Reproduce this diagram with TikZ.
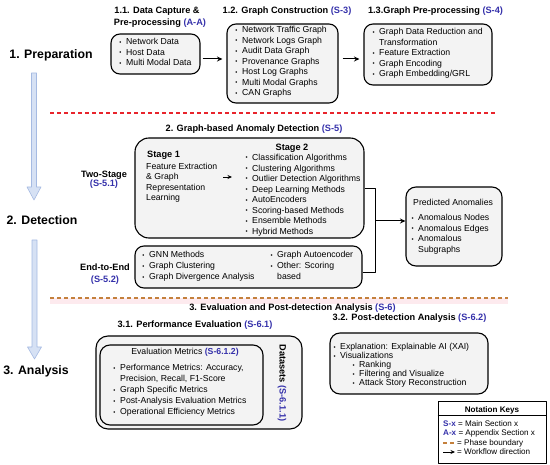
\documentclass[tikz,border=0pt]{standalone}
\usepackage{fontspec}
\setmainfont{Liberation Sans}
\usetikzlibrary{calc,arrows.meta}
\definecolor{secblue}{RGB}{52,48,170}
\definecolor{boxgray}{RGB}{243,243,243}
\definecolor{phasered}{RGB}{232,36,44}
\definecolor{phasebrown}{RGB}{196,128,60}
\definecolor{pinkband}{RGB}{253,234,238}
\definecolor{arrfill}{RGB}{214,225,244}
\definecolor{arrdraw}{RGB}{165,186,226}
\newcommand\fnt{\fontsize{8.7}{10}\selectfont}
\newcommand\tfnt{\fontsize{9.2}{11}\selectfont\bfseries}
\newcommand\pfnt{\fontsize{12.3}{14}\selectfont\bfseries}
\newcommand\lfnt{\fontsize{8.1}{9}\selectfont}
\newcommand\bul{\makebox[0pt][r]{{\fontsize{6}{6}\selectfont\raisebox{0.6pt}{•}}\hspace{4.6pt}}}
\newcommand\sref[1]{\textcolor{secblue}{\bfseries #1}}
\begin{document}
\begin{tikzpicture}[x=1pt,y=-1pt,line join=round,
  box/.style={draw, line width=1.1pt, fill=boxgray, rounded corners=9pt, inner sep=0},
  item/.style={anchor=base west, inner sep=0, font=\fnt},
  ttl/.style={anchor=base, inner sep=0, font=\tfnt},
  phase/.style={anchor=base, inner sep=0, font=\pfnt},
  arr/.style={line width=1pt, -{Stealth[length=5.5pt,width=5pt]}},
  conn/.style={line width=1pt},
  bigarrow/.style={fill=arrfill, draw=arrdraw, line width=0.6pt},
  dashline/.style={line width=1.3pt, dash pattern=on 4pt off 3pt}]
\useasboundingbox (0,0) rectangle (550,465);

% phase arrows and boundaries
\draw[bigarrow] (31.5,73) -- (36.5,73) -- (36.5,187) -- (41,187) -- (34,200) -- (27,187) -- (31.5,187) -- cycle;
\draw[bigarrow] (32,240) -- (37,240) -- (37,347) -- (41.5,347) -- (34.5,359) -- (27.5,347) -- (32,347) -- cycle;
\draw[phasered, dashline] (50,113) -- (497,113);
\fill[pinkband] (50,298) rectangle (508,304);
\draw[phasebrown, dashline] (50,298) -- (508,298);

% boxes
\node[box, minimum width=89pt, minimum height=40pt] (b11) at (155.5,54) {};
\node[box, minimum width=111pt, minimum height=79pt] (b12) at (282.5,63.5) {};
\node[box, minimum width=128pt, minimum height=61pt] (b13) at (428,54.5) {};
\node[box, rounded corners=14pt, minimum width=229pt, minimum height=100pt] (b2a) at (249.5,188) {};
\node[box, minimum width=227pt, minimum height=42pt] (b2b) at (248.5,267) {};
\node[box, rounded corners=10pt, minimum width=96pt, minimum height=79pt] (pred) at (454,226.5) {};
\node[box, rounded corners=12pt, minimum width=206pt, minimum height=93pt] (b31o) at (199,382.5) {};
\node[box, rounded corners=10pt, minimum width=163pt, minimum height=80pt] (b31i) at (181.5,385) {};
\node[box, rounded corners=10pt, minimum width=158pt, minimum height=61pt] (b32) at (409,363.5) {};
\node[draw, line width=0.8pt, fill=white, inner sep=0, minimum width=108pt, minimum height=62pt] (legend) at (492,432) {};
\draw[line width=0.6pt] ($(legend.north west)+(0,15)$) -- ($(legend.north east)+(0,15)$);

% titles
\node[ttl] (t11a) at (157,14) {1.1. Data Capture \&};
\node[ttl] (t11b) at (160,26) {Pre-processing \sref{(A-A)}};
\node[ttl] (t12) at (287,14) {1.2. Graph Construction \sref{(S-3)}};
\node[ttl] (t13) at (435.5,14) {1.3.Graph Pre-processing \sref{(S-4)}};
\node[phase] (p1) at (51,58.5) {1. Preparation};
\node[phase] (p2) at (42,224.5) {2. Detection};
\node[phase] (p3) at (36,374.5) {3. Analysis};
\node[ttl] (t2) at (254,132) {2. Graph-based Anomaly Detection \sref{(S-5)}};
\node[ttl] (two) at (104,177.5) {Two-Stage};
\node[ttl] (two2) at (104,187) {\sref{(S-5.1)}};
\node[ttl] (e2e) at (105,271) {End-to-End};
\node[ttl] (e2e2) at (105,283) {\sref{(S-5.2)}};
\node[ttl] (t3) at (292.5,311) {3. Evaluation and Post-detection Analysis \sref{(S-6)}};
\node[ttl] (t31) at (195,328) {3.1. Performance Evaluation \sref{(S-6.1)}};
\node[ttl] (t32) at (409.5,321) {3.2. Post-detection Analysis \sref{(S-6.2)}};

% box contents
\foreach \t [count=\i] in {{\bul Network Data},{\bul Host Data},{\bul Multi Modal Data}}
  \node[item] (i11-\i) at (126,{45+10.5*(\i-1)}) {\t};
\foreach \t [count=\i] in {{\bul Network Traffic Graph},{\bul Network Logs Graph},{\bul Audit Data Graph},{\bul Provenance Graphs},{\bul Host Log Graphs},{\bul Multi Modal Graphs},{\bul CAN Graphs}}
  \node[item] (i12-\i) at (242,{33+10.5*(\i-1)}) {\t};
\foreach \t [count=\i] in {{\bul Graph Data Reduction and},{Transformation},{\bul Feature Extraction},{\bul Graph Encoding},{\bul Graph Embedding/GRL}}
  \node[item] (i13-\i) at (379,{35+10.5*(\i-1)}) {\t};

\node[item, font=\tfnt] (s1t) at (147,157.5) {Stage 1};
\foreach \t [count=\i] in {{Feature Extraction},{\& Graph},{Representation},{Learning}}
  \node[item] (s1-\i) at (146,{169.5+10.5*(\i-1)}) {\t};
\node[ttl] (s2t) at (292,151) {Stage 2};
\foreach \t [count=\i] in {{\bul Classification Algorithms},{\bul Clustering Algorithms},{\bul Outlier Detection Algorithms},{\bul Deep Learning Methods},{\bul AutoEncoders},{\bul Scoring-based Methods},{\bul Ensemble Methods},{\bul Hybrid Methods}}
  \node[item] (s2-\i) at (252,{160.5+10.55*(\i-1)}) {\t};
\coordinate (s1e) at (223,177);
\coordinate (s2w) at (232,177);
\draw[line width=0.9pt, -{Stealth[length=4.5pt,width=4pt]}] (s1e) -- (s2w);

\foreach \t [count=\i] in {{\bul GNN Methods},{\bul Graph Clustering},{\bul Graph Divergence Analysis}}
  \node[item] (el-\i) at (149,{258+11*(\i-1)}) {\t};
\foreach \t [count=\i] in {{\bul Graph Autoencoder},{\bul Other: Scoring},{based}}
  \node[item] (er-\i) at (277,{258+11*(\i-1)}) {\t};

\node[item] (pt) at (413,206) {Predicted Anomalies};
\foreach \t/\yy [count=\i] in {{\bul Anomalous Nodes}/221,{\bul Anomalous Edges}/231.5,{\bul Anomalous}/242,{Subgraphs}/252.5}
  \node[item] (pa-\i) at (418,\yy) {\t};

\node[anchor=base, inner sep=0, font=\fnt] (emt) at (185,355) {Evaluation Metrics \sref{(S-6.1.2)}};
\foreach \t [count=\i] in {{\bul Performance Metrics: Accuracy,},{Precision, Recall, F1-Score},{\bul Graph Specific Metrics},{\bul Post-Analysis Evaluation Metrics},{\bul Operational Efficiency Metrics}}
  \node[item] (em-\i) at (120,{371+11*(\i-1)}) {\t};
\node[font=\tfnt, rotate=-90, inner sep=0] (ds) at (282,383) {Datasets \sref{(S-6.1.1)}};

\node[item] (pd-1) at (340,350) {\bul Explanation: Explainable AI (XAI)};
\node[item] (pd-2) at (340,359) {\bul Visualizations};
\foreach \t [count=\i] in {{\bul Ranking},{\bul Filtering and Visualize},{\bul Attack Story Reconstruction}}
  \node[item] (pds-\i) at (359,{368+9*(\i-1)}) {\t};

% legend
\node[anchor=base, inner sep=0, font=\lfnt\bfseries] (lt) at (492,413) {Notation Keys};
\node[anchor=base west, inner sep=0, font=\lfnt] (l1) at (443,427) {\sref{S-x} = Main Section x};
\node[anchor=base west, inner sep=0, font=\lfnt] (l2) at (443,436) {\sref{A-x} = Appendix Section x};
\node[anchor=base west, inner sep=0, font=\lfnt] (l3) at (457,446) {= Phase boundary};
\node[anchor=base west, inner sep=0, font=\lfnt] (l4) at (457,455) {= Workflow direction};
\coordinate (ld1) at (443,443);
\coordinate (ld2) at (455,443);
\draw[phasebrown, line width=1.1pt, dash pattern=on 4pt off 3pt] (ld1) -- (ld2);
\coordinate (la1) at (443,452);
\coordinate (la2) at (455,452);
\draw[line width=0.9pt, -{Stealth[length=4.5pt,width=4pt]}] (la1) -- (la2);

% connectors
\coordinate (a1) at ($(b11.east)+(2,5)$);
\draw[arr] (a1) -- ($(b12.west|-a1)+(-4,0)$);
\coordinate (a2) at ($(b13.west)+(-4,4.5)$);
\draw[arr] ($(b12.east|-a2)+(4,0)$) -- (a2);
\coordinate (j) at (375,221);
\draw[conn] ($(b2a.east)+(0,1)$) -| (j);
\draw[conn] ($(b2b.east)+(0,6)$) -| (j);
\draw[arr] (j) -- (pred.west|-j);
\end{tikzpicture}
\end{document}
